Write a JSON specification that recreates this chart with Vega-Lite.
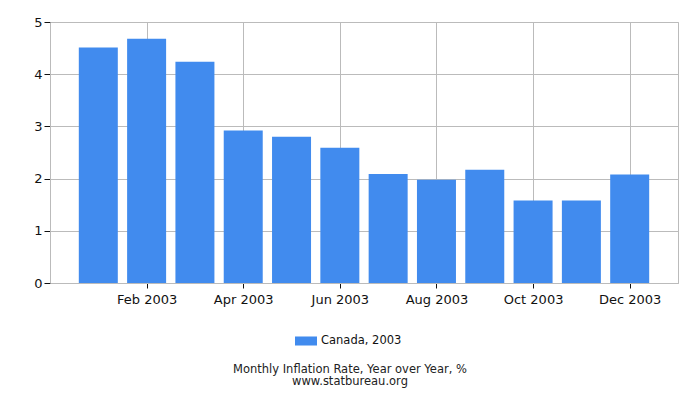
{
  "$schema": "https://vega.github.io/schema/vega-lite/v6.json",
  "width": 628,
  "height": 261,
  "autosize": "none",
  "padding": {"left": 50, "top": 22, "right": 22, "bottom": 117},
  "background": "white",
  "config": {
    "font": "DejaVu Sans",
    "view": {"stroke": "#bbbbbb", "strokeWidth": 1}
  },
  "title": {
    "text": "Monthly Inflation Rate, Year over Year, %",
    "subtitle": "www.statbureau.org",
    "orient": "bottom",
    "anchor": "middle",
    "frame": "group",
    "dx": -14,
    "offset": 17,
    "fontSize": 11.5,
    "fontWeight": "normal",
    "color": "#222222",
    "subtitleFontSize": 11.5,
    "subtitleColor": "#222222",
    "subtitlePadding": 0
  },
  "data": {
    "values": [
      {"month": 1, "series": "Canada, 2003", "rate": 4.51},
      {"month": 2, "series": "Canada, 2003", "rate": 4.68},
      {"month": 3, "series": "Canada, 2003", "rate": 4.24},
      {"month": 4, "series": "Canada, 2003", "rate": 2.92},
      {"month": 5, "series": "Canada, 2003", "rate": 2.80},
      {"month": 6, "series": "Canada, 2003", "rate": 2.59},
      {"month": 7, "series": "Canada, 2003", "rate": 2.09},
      {"month": 8, "series": "Canada, 2003", "rate": 1.98},
      {"month": 9, "series": "Canada, 2003", "rate": 2.17},
      {"month": 10, "series": "Canada, 2003", "rate": 1.58},
      {"month": 11, "series": "Canada, 2003", "rate": 1.58},
      {"month": 12, "series": "Canada, 2003", "rate": 2.08}
    ]
  },
  "mark": {"type": "bar", "width": 39},
  "encoding": {
    "x": {
      "field": "month",
      "type": "quantitative",
      "scale": {"domain": [0, 13], "nice": false, "zero": false, "padding": 0},
      "axis": {
        "title": null,
        "values": [2, 4, 6, 8, 10, 12],
        "labelExpr": "['','Jan','Feb','Mar','Apr','May','Jun','Jul','Aug','Sep','Oct','Nov','Dec'][datum.value] + ' 2003'",
        "labelFontSize": 13,
        "labelColor": "#111111",
        "labelPadding": 5,
        "tickColor": "#111111",
        "tickSize": 5,
        "domainColor": "#bbbbbb",
        "gridColor": "#bbbbbb",
        "grid": true
      }
    },
    "y": {
      "field": "rate",
      "type": "quantitative",
      "scale": {"domain": [0, 5], "nice": false},
      "axis": {
        "title": null,
        "values": [0, 1, 2, 3, 4, 5],
        "labelFontSize": 13,
        "labelColor": "#111111",
        "labelPadding": 2,
        "tickColor": "#111111",
        "tickSize": 6,
        "domainColor": "#bbbbbb",
        "gridColor": "#bbbbbb"
      }
    },
    "color": {
      "field": "series",
      "type": "nominal",
      "scale": {"range": ["#418bee"]},
      "legend": {
        "title": null,
        "orient": "none",
        "legendX": 245,
        "legendY": 308,
        "symbolType": "M-1,-0.41H1V0.41H-1Z",
        "symbolSize": 484,
        "symbolOpacity": 1,
        "symbolFillColor": "#418bee",
        "labelOffset": 4,
        "labelFontSize": 11.5,
        "labelColor": "#111111",
        "symbolStrokeWidth": 0
      }
    }
  }
}
